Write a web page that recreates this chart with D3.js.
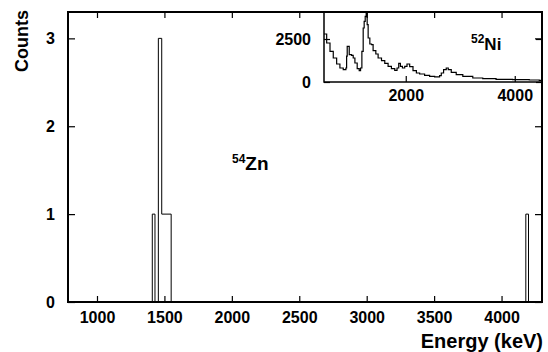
<!DOCTYPE html>
<html><head><meta charset="utf-8">
<script src="https://cdn.jsdelivr.net/npm/d3@7"></script>
<style>
body{margin:0;background:#fff}
svg{display:block}
text{font-family:"Liberation Sans",Arial,Helvetica,sans-serif;font-weight:bold;fill:#000}
</style>
</head><body>
<svg id="c" width="548" height="352"></svg>
<script>
// ---- main plot data (54Zn) ----
const xTicks = [1000, 1500, 2000, 2500, 3000, 3500, 4000];
const yTicks = [0, 1, 2, 3];
const znEdges  = [785, 1410, 1430, 1455, 1480, 1550, 4180, 4200];
const znCounts = [0,   1,    0,    3,    1,    0,    1,    0];

// ---- inset data (52Ni) ----
const insetXTicks = [2000, 4000];
const insetYTicks = [0, 2500];
const niEnergy = [500,549,610,670,732,792,853,902,915,926,944,963,1006,1036,1067,1109,1146,1171,1195,1219,1237,1256,1274,1292,1310,1341,1372,1401,1451,1493,1555,1615,1676,1737,1798,1840,1871,1902,1939,1981,2023,2072,2133,2195,2255,2346,2438,2530,2621,2652,2694,2743,2780,2835,2926,3047,3230,3413,3657,3961,4266,4450,4500];
const niCounts = [2790,2267,1779,1395,1047,814,715,814,1500,2070,2070,1587,1547,1395,1105,773,657,814,1779,3140,3523,3814,4100,3331,2558,2209,2169,1820,1628,1395,1238,1081,907,773,674,814,1081,907,814,907,1047,890,657,523,465,384,330,300,366,523,715,814,715,558,424,326,233,192,151,134,116,93,90];

const svg = d3.select("#c");
const M = {l: 68, r: 542, t: 12, b: 302};

const x = d3.scaleLinear().domain([785, 4300]).range([M.l, M.r]);
const y = d3.scaleLinear().domain([0, 3.3]).range([M.b, M.t]);

function styleAxis(g) {
  g.select(".domain").remove();
  g.selectAll(".tick line").attr("stroke", "#000").attr("stroke-width", 1.2);
  g.selectAll(".tick text").style("font-size", "16px").style("font-family", "'Liberation Sans',Arial,sans-serif").style("font-weight", "bold");
}

// histogram outline
const pts = znEdges.map((e, i) => [e, znCounts[i]]);
pts.push([4300, 0]);
svg.append("path")
  .attr("d", d3.line().x(d => x(d[0])).y(d => y(d[1])).curve(d3.curveStepAfter)(pts))
  .attr("fill", "none").attr("stroke", "#000").attr("stroke-width", 1);

// main axes
svg.append("g").attr("transform", `translate(0,${M.b})`)
  .call(d3.axisBottom(x).tickValues(xTicks).tickSize(-6).tickPadding(10).tickFormat(d3.format("d"))).call(styleAxis);
svg.append("g").attr("transform", `translate(0,${M.t})`)
  .call(d3.axisTop(x).tickValues(xTicks).tickSize(-6).tickFormat("")).call(styleAxis);
svg.append("g").attr("transform", `translate(${M.l},0)`)
  .call(d3.axisLeft(y).tickValues(yTicks).tickSize(-7).tickPadding(13).tickFormat(d3.format("d"))).call(styleAxis);
svg.append("g").attr("transform", `translate(${M.r},0)`)
  .call(d3.axisRight(y).tickValues(yTicks).tickSize(-7).tickFormat("")).call(styleAxis);

svg.append("rect").attr("x", M.l).attr("y", M.t).attr("width", M.r - M.l).attr("height", M.b - M.t)
  .attr("fill", "none").attr("stroke", "#000").attr("stroke-width", 2);

// axis titles
svg.append("text").attr("x", 543).attr("y", 348).attr("text-anchor", "end")
  .style("font-size", "20px").text("Energy (keV)");
svg.append("text").attr("transform", "translate(28,10) rotate(-90)").attr("text-anchor", "end")
  .style("font-size", "18px").text("Counts");

// 54Zn label
const zn = svg.append("text").attr("x", 232).attr("y", 170).style("font-size", "19px");
zn.append("tspan").style("font-size", "12px").attr("dy", "-7").text("54");
zn.append("tspan").attr("dy", "7").text("Zn");

// ---- inset ----
const I = {l: 324, r: 542, t: 12, b: 82};
const xi = d3.scaleLinear().domain([500, 4500]).range([I.l, I.r]);
const yi = d3.scaleLinear().domain([0, 4070]).range([I.b, I.t]);

svg.append("defs").append("clipPath").attr("id", "ic")
  .append("rect").attr("x", I.l).attr("y", I.t).attr("width", I.r - I.l).attr("height", I.b - I.t);

svg.append("path")
  .attr("d", d3.line().x((d, i) => xi(niEnergy[i])).y(d => yi(d)).curve(d3.curveStepAfter)(niCounts))
  .attr("clip-path", "url(#ic)")
  .attr("fill", "none").attr("stroke", "#000").attr("stroke-width", 1.2);

svg.append("g").attr("transform", `translate(0,${I.b})`)
  .call(d3.axisBottom(xi).tickValues(insetXTicks).tickSize(-6).tickPadding(8).tickFormat(d3.format("d"))).call(styleAxis);
svg.append("g").attr("transform", `translate(${I.l},0)`)
  .call(d3.axisLeft(yi).tickValues(insetYTicks).tickSize(-6).tickPadding(13).tickFormat(d3.format("d"))).call(styleAxis);
svg.append("g").attr("transform", `translate(${I.r},0)`)
  .call(d3.axisRight(yi).tickValues(insetYTicks).tickSize(-6).tickFormat("")).call(styleAxis);

svg.append("rect").attr("x", I.l).attr("y", I.t).attr("width", I.r - I.l).attr("height", I.b - I.t)
  .attr("fill", "none").attr("stroke", "#000").attr("stroke-width", 1.5);

const ni = svg.append("text").attr("x", 471).attr("y", 50).style("font-size", "17px");
ni.append("tspan").style("font-size", "12px").attr("dy", "-7").text("52");
ni.append("tspan").attr("dy", "7").text("Ni");
</script>
</body></html>
